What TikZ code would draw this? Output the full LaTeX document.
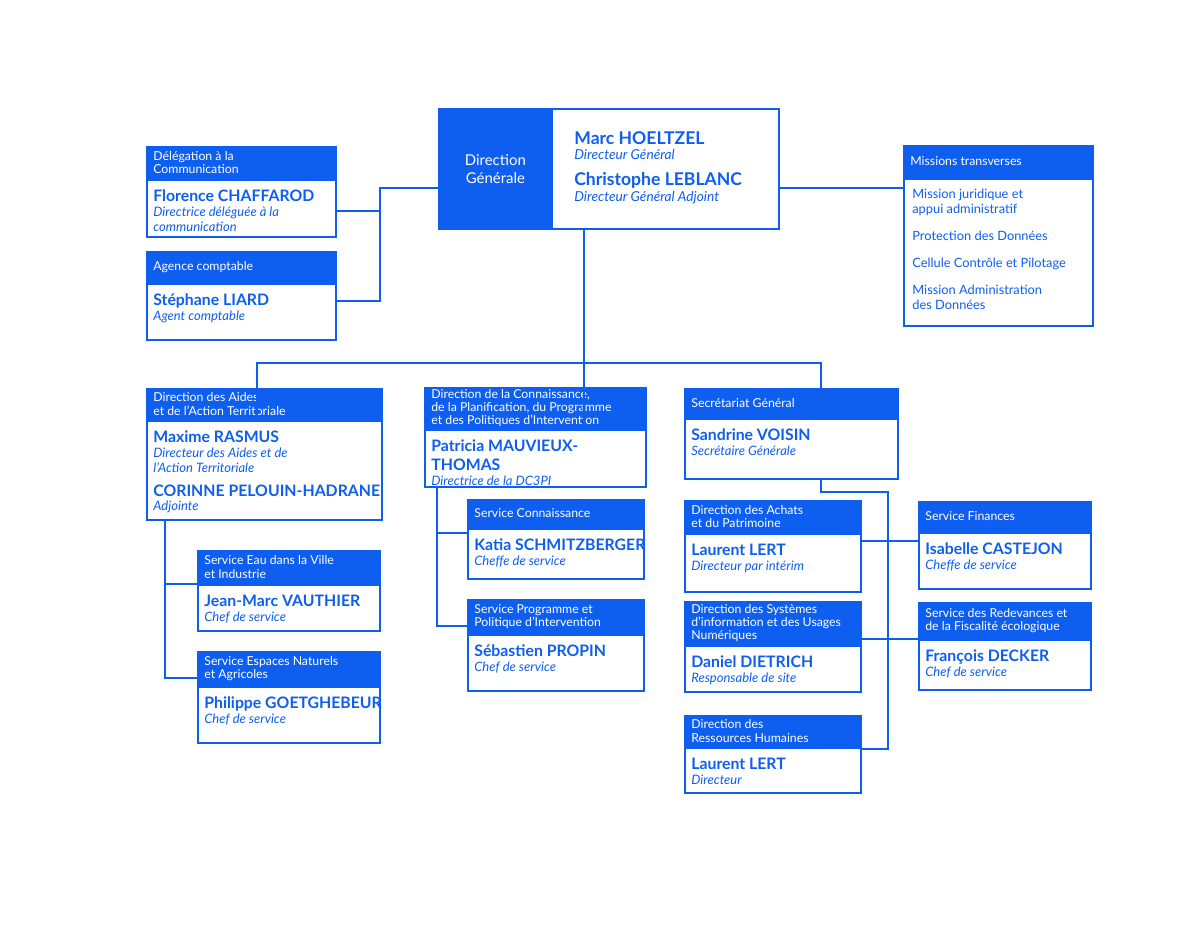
\documentclass[tikz,border=0pt]{standalone}
\usepackage{fontspec}
\setmainfont{Lato}
\definecolor{dgblue}{RGB}{14,94,240}
\tikzset{
  hdr/.style={fill=dgblue,draw=dgblue,line width=1pt,anchor=north west,inner sep=0pt},
  bdy/.style={fill=white,draw=dgblue,line width=1pt,anchor=north west,inner sep=0pt},
  hdrtxt/.style={anchor=west,inner sep=0pt,text=white,align=left,font=\fontsize{7}{7.6}\selectfont},
  bdytxt/.style={anchor=north west,inner sep=0pt,text=dgblue,align=left,font=\fontsize{7.4}{8.4}\selectfont},
  link/.style={draw=dgblue,line width=1pt}
}
\newcommand\nm[1]{{\fontsize{9}{10}\selectfont\bfseries\rule{0pt}{9.5pt}#1}}
\newcommand\rl[1]{{\itshape #1}}
% box with a blue band on top: id, x, y, width, band height, body height, band text, body text
\newcommand\orgbox[8]{%
  \pgfmathsetmacro\bw{#4*0.02}\pgfmathsetmacro\hh{#5*0.02}\pgfmathsetmacro\bh{#6*0.02}
  \node[hdr,minimum width=\bw cm,minimum height=\hh cm] (#1h) at (#2,#3) {};
  \node[hdrtxt] at ([xshift=0.14cm]#1h.west) {#7};
  \node[bdy,minimum width=\bw cm,minimum height=\bh cm] (#1) at (#1h.south west) {};
  \node[bdytxt] (#1t) at ([shift={(0.14cm,-0.12cm)}]#1.north west) {#8};
}
\begin{document}
\begin{tikzpicture}[x=0.02cm,y=-0.02cm]
  \useasboundingbox (0,0) rectangle (1200,943);
  % direction generale
  \node[bdy,minimum width=6.8cm,minimum height=2.4cm] (dg) at (438,108) {};
  \node[hdr,minimum width=2.26cm,minimum height=2.4cm] (dgl) at (438,108) {};
  \node[hdrtxt,anchor=center,align=center,font=\fontsize{8.5}{10}\selectfont] at (dgl.center) {Direction\\Générale};
  \node[bdytxt,font=\fontsize{7.8}{8.8}\selectfont] (dgt) at (574,131) {{\fontsize{10}{11}\selectfont\bfseries Marc HOELTZEL}\\\rl{Directeur Général}\\[6pt]{\fontsize{10}{11}\selectfont\bfseries Christophe LEBLANC}\\\rl{Directeur Général Adjoint}};
  % left and right of the top
  \orgbox{comm}{146}{146}{189}{31}{57}{Délégation à la\\Communication}{\nm{Florence CHAFFAROD}\\\rl{Directrice déléguée à la}\\\rl{communication}}
  \orgbox{agc}{146}{251}{189}{30}{56}{Agence comptable}{\nm{Stéphane LIARD}\\\rl{Agent comptable}}
  \orgbox{mis}{903}{145}{189}{31}{147}{Missions transverses}{}
  \node[bdytxt,font=\fontsize{7.3}{8.4}\selectfont] at ([shift={(9,11)}]mis.north west) {Mission juridique et\\appui administratif\\[7pt]Protection des Données\\[7pt]Cellule Contrôle et Pilotage\\[7pt]Mission Administration\\des Données};
  % second row
  \orgbox{dat}{146}{388}{235}{30}{99}{Direction des Aides\\et de l’Action Territoriale}{\nm{Maxime RASMUS}\\\rl{Directeur des Aides et de}\\\rl{l’Action Territoriale}\\[3pt]\nm{CORINNE PELOUIN-HADRANE}\\\rl{Adjointe}}
  \orgbox{dcp}{424}{387}{221}{40}{57}{Direction de la Connaissance,\\de la Planification, du Programme\\et des Politiques d’Intervention}{\nm{Patricia MAUVIEUX-}\\\nm{THOMAS}\\\rl{Directrice de la DC3PI}}
  \orgbox{sg}{684}{388}{213}{28}{60}{Secrétariat Général}{\nm{Sandrine VOISIN}\\\rl{Secrétaire Générale}}
  % services
  \orgbox{eau}{197}{550}{182}{32}{46}{Service Eau dans la Ville\\et Industrie}{\nm{Jean-Marc VAUTHIER}\\\rl{Chef de service}}
  \orgbox{esp}{197}{651}{182}{33}{56}{Service Espaces Naturels\\et Agricoles}{\nm{Philippe GOETGHEBEUR}\\\rl{Chef de service}}
  \orgbox{con}{467}{499}{176}{27}{50}{Service Connaissance}{\nm{Katia SCHMITZBERGER}\\\rl{Cheffe de service}}
  \orgbox{prg}{467}{599}{176}{33}{56}{Service Programme et\\Politique d’Intervention}{\nm{Sébastien PROPIN}\\\rl{Chef de service}}
  \orgbox{ach}{684}{500}{176}{31}{58}{Direction des Achats\\et du Patrimoine}{\nm{Laurent LERT}\\\rl{Directeur par intérim}}
  \orgbox{dsi}{684}{601}{176}{42}{46}{Direction des Systèmes\\d’information et des Usages\\Numériques}{\nm{Daniel DIETRICH}\\\rl{Responsable de site}}
  \orgbox{drh}{684}{715}{176}{30}{45}{Direction des\\Ressources Humaines}{\nm{Laurent LERT}\\\rl{Directeur}}
  \orgbox{fin}{918}{501}{172}{29}{56}{Service Finances}{\nm{Isabelle CASTEJON}\\\rl{Cheffe de service}}
  \orgbox{red}{918}{602}{172}{35}{50}{Service des Redevances et\\de la Fiscalité écologique}{\nm{François DECKER}\\\rl{Chef de service}}
  % links
  \coordinate (jl) at (380,188);
  \coordinate (jd) at (584,363);
  \coordinate (js) at (888,492);
  \draw[link] (dg.west |- jl) -- (jl) |- (agc.east |- 0,301);
  \draw[link] (jl |- 0,211) -- (comm.east |- 0,211);
  \draw[link] (dg.east |- jl) -- (mis.west |- jl);
  \draw[link] (dg.south -| jd) -- (dcp.north -| jd);
  \draw[link] (dat.north -| 257,0) |- (jd) -| (sg.north -| 821,0);
  \draw[link] (dat.south -| 165,0) |- (esp.west |- 0,678);
  \draw[link] (165,584) -- (eau.west |- 0,584);
  \draw[link] (dcp.south -| 437,0) |- (prg.west |- 0,626);
  \draw[link] (437,533) -- (con.west |- 0,533);
  \draw[link] (sg.south -| 821,0) |- (js) |- (drh.east |- 0,749);
  \draw[link] (ach.east |- 0,541) -- (fin.west |- 0,541);
  \draw[link] (dsi.east |- 0,639) -- (red.west |- 0,639);
\end{tikzpicture}
\end{document}
